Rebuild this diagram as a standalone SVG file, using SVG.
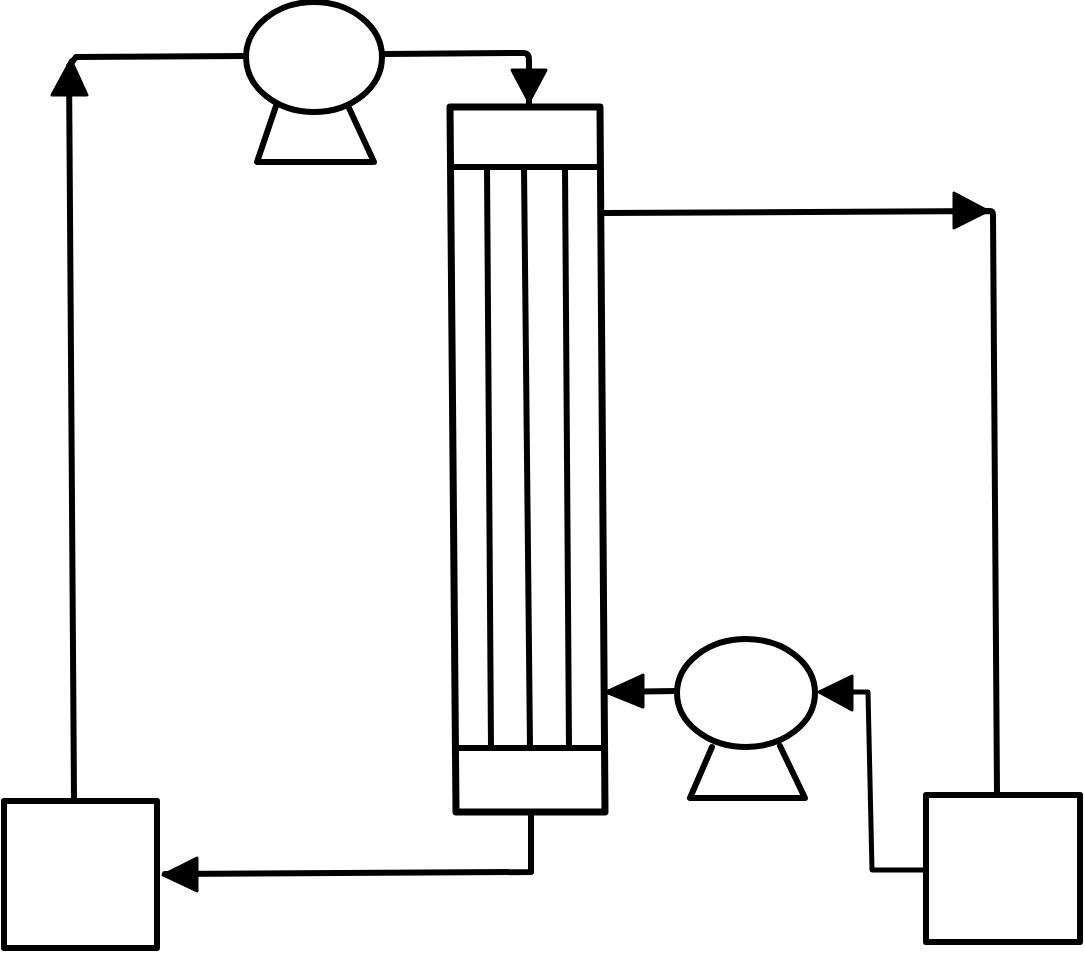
<svg xmlns="http://www.w3.org/2000/svg" width="1085" height="955" viewBox="0 0 1085 955">
<style>
.s{fill:none;stroke:#000;stroke-width:6;stroke-linejoin:round;stroke-linecap:round}
.a{fill:#000;stroke:#000;stroke-width:3;stroke-linejoin:round}
.w{fill:#fff;stroke:#000;stroke-width:6;stroke-linejoin:round}
</style>
<rect width="1085" height="955" fill="#fff"/>
<g id="connectors">
<path class="s" d="M74 798L69 66L76 57L245 56"/>
<path class="a" d="M71 60L87 95L52 95Z"/>
<path class="s" d="M384 54L524 53Q529 53 529 60V104"/>
<path class="a" d="M512 70H546L529 102Z"/>
<path class="s" d="M604 213L990 211Q993 211 993 215L997 794"/>
<path class="a" d="M988 211L954 193V228Z"/>
<path class="s" d="M676 691L610 692"/>
<path class="a" d="M606 692L643 675V707Z"/>
<path class="s" d="M926 870H872L868 692H822" style="stroke-width:5"/>
<path class="a" d="M819 692L852 676V710Z"/>
<path class="s" d="M531 816V872L165 874"/>
<path class="a" d="M163 875L197 858V891Z"/>
</g>
<g id="pump-top">
<ellipse class="w" cx="314" cy="57" rx="68" ry="55"/>
<path class="s" d="M276 106L257 162H374L349 108"/>
</g>
<g id="pump-bottom">
<ellipse class="w" cx="746" cy="693" rx="69" ry="54"/>
<path class="s" d="M712 747L690 798H805L780 746"/>
</g>
<g id="column">
<path class="w" d="M450 107H600L605 812H456Z" style="stroke-width:7"/>
<path class="s" d="M451 167H600M455 748H604"/>
<path class="s" d="M487 168L491 747M524 168L530 747M565 168L569 747"/>
</g>
<g id="tank-left"><rect class="w" x="4" y="801" width="153" height="147"/></g>
<g id="tank-right"><rect class="w" x="926" y="795" width="154" height="147"/></g>
</svg>
